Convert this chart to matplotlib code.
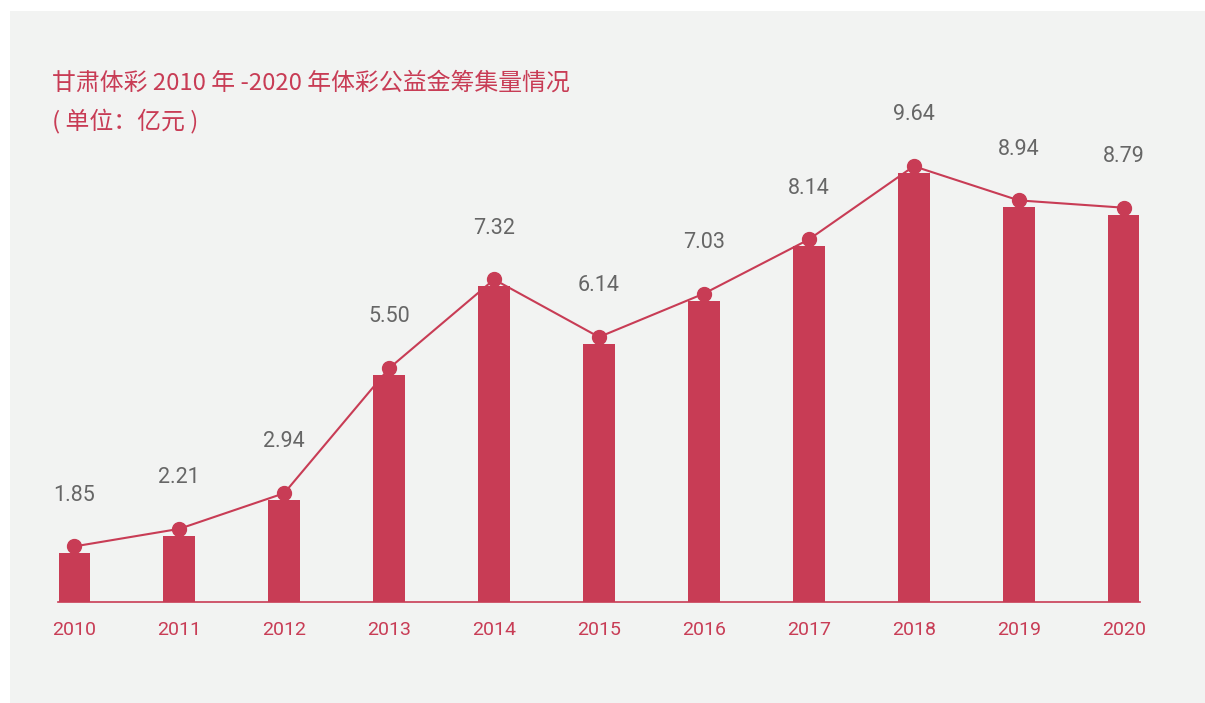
import matplotlib.pyplot as plt
import matplotlib.transforms as mtransforms
from matplotlib.patches import Rectangle

years = ["2010", "2011", "2012", "2013", "2014", "2015", "2016",
         "2017", "2018", "2019", "2020"]
values = [1.85, 2.21, 2.94, 5.50, 7.32, 6.14, 7.03, 8.14, 9.64, 8.94, 8.79]
labels = ["1.85", "2.21", "2.94", "5.50", "7.32", "6.14", "7.03",
          "8.14", "9.64", "8.94", "8.79"]

red = "#c83c55"
grey = "#666666"
panel = "#f2f3f2"

W, H = 1205, 703
fig = plt.figure(figsize=(W / 100, H / 100), dpi=100)
fig.patch.set_facecolor("white")
fig.patches.append(Rectangle((10 / W, 0), 1, 1 - 11 / H, transform=fig.transFigure,
                             facecolor=panel, edgecolor="none", zorder=-10))

ax = fig.add_axes([58 / W, (H - 602) / H, (1140 - 58) / W, (602 - 100) / H])
ax.set_facecolor("none")

x = list(range(len(years)))
ax.bar(x, values, width=0.3, color=red, zorder=2)

# line + dots sit a little above the bar tops
shift = mtransforms.ScaledTranslation(0, 7 / 100, fig.dpi_scale_trans)
ax.plot(x, values, color=red, lw=1.5, marker="o", markersize=10,
        transform=ax.transData + shift, zorder=3, clip_on=False)

for xi, v, lab in zip(x, values, labels):
    ax.annotate(lab, (xi, v), xytext=(0, 42), textcoords="offset points",
                ha="center", va="center", fontsize=15.5, color=grey,
                family=["Roboto", "DejaVu Sans"])

ax.set_xlim(-0.155, 10.155)
ax.set_ylim(0.855, 11.14)
ax.set_xticks(x)
ax.set_xticklabels(years, fontsize=14, color=red, family=["Roboto", "DejaVu Sans"])
ax.tick_params(axis="x", length=0, pad=14)
ax.set_yticks([])
for s in ["left", "right", "top"]:
    ax.spines[s].set_visible(False)
ax.spines["bottom"].set_color(red)
ax.spines["bottom"].set_linewidth(1.2)

cjk = ["Noto Sans CJK SC", "DejaVu Sans"]
fig.text(52 / W, 1 - 83 / H, "甘肃体彩 2010 年 -2020 年体彩公益金筹集量情况",
         fontsize=17.2, color=red, family=cjk, va="center", ha="left")
fig.text(52 / W, 1 - 121 / H, "( 单位：亿元 )",
         fontsize=17.2, color=red, family=cjk, va="center", ha="left")

fig.savefig("out.png", dpi=100, facecolor=fig.get_facecolor())
